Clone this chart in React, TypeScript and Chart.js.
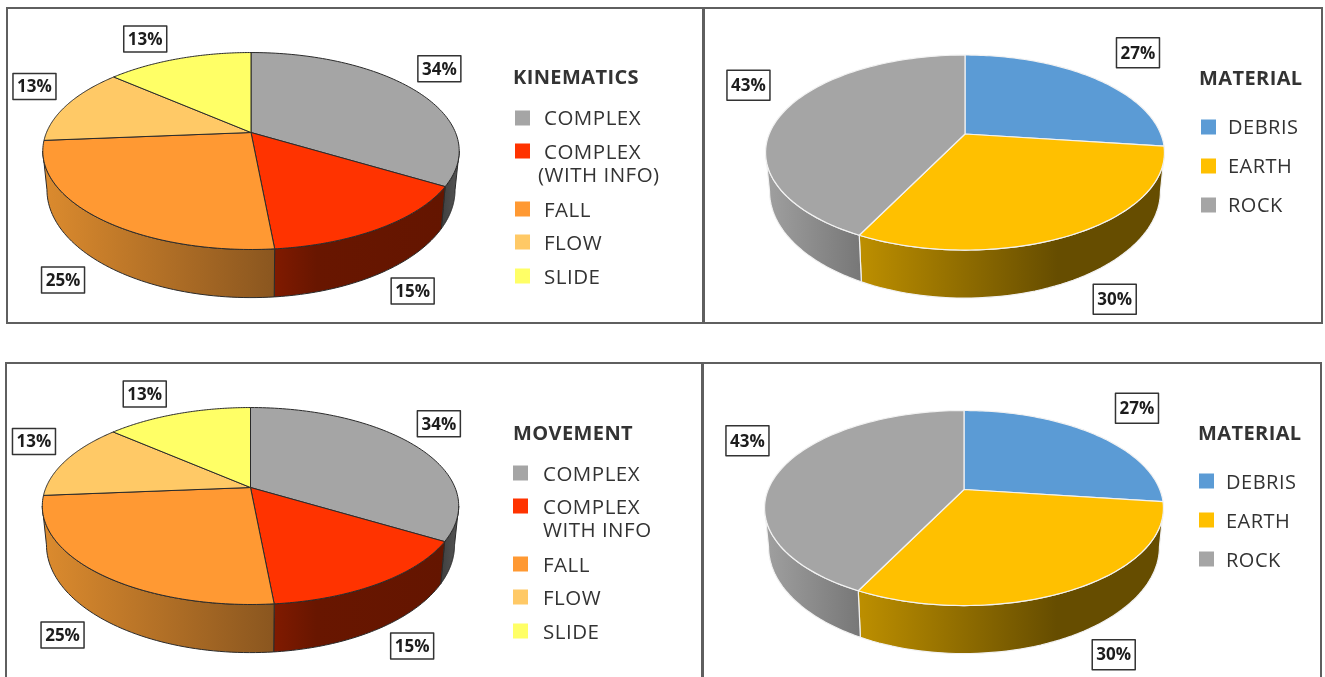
import React, { useEffect, useRef } from "react";
import { Chart, registerables } from "chart.js";

Chart.register(...registerables);

// ---------- data ----------
const kinematicsLabels = [["COMPLEX"], ["COMPLEX", "(WITH INFO)"], ["FALL"], ["FLOW"], ["SLIDE"]];
const movementLabels = [["COMPLEX"], ["COMPLEX", "WITH INFO"], ["FALL"], ["FLOW"], ["SLIDE"]];
const materialLabels = [["DEBRIS"], ["EARTH"], ["ROCK"]];
const movementValues = [33.6, 14.9, 25.2, 12.7, 13.6];
const movementTexts = ["34%", "15%", "25%", "13%", "13%"];
const materialValues = [27, 30.4, 42.6];
const materialTexts = ["27%", "30%", "43%"];

// ---------- styles ----------
const movementColors = ["#a5a5a5", "#ff3300", "#ff9933", "#ffc966", "#ffff66"];
const materialColors = ["#5b9bd5", "#ffc000", "#a5a5a5"];
const movementWalls: [number, string][][] = [
  [[0, "#3f3f3f"], [1, "#555555"]],
  [[0, "#801a00"], [0.25, "#681600"], [1, "#641500"]],
  [[0, "#dc8b2e"], [1, "#8a561f"]],
  [[0, "#dc8b2e"], [1, "#dc8b2e"]],
  [[0, "#c0c04d"], [1, "#c0c04d"]],
];
const materialWalls: [number, string][][] = [
  [[0, "#44749f"], [1, "#44749f"]],
  [[0, "#bd8f00"], [0.65, "#664d00"], [1, "#664d00"]],
  [[0, "#a0a0a0"], [1, "#777777"]],
];
const movementNudges = [[25.5, -21], [32, 63], [-34.5, 62.5], [-33, -18], [-33.4, -19.6]];
const materialNudges = [[42.5, -26], [39, 65.5], [-34, -28]];

const FONT = '"Open Sans", sans-serif';
const R = 100;
const TEXT = "#333333";

const baseMove = {
  values: movementValues, texts: movementTexts, colors: movementColors, walls: movementWalls,
  nudges: movementNudges, sx: 2.045, sy: 0.95, k: 0.188, edge: "#2a2a2a", edgeW: 1, boxH: 26, legendSize: 20.5,
};
const baseMat = {
  values: materialValues, texts: materialTexts, colors: materialColors, walls: materialWalls,
  nudges: materialNudges, sx: 1.958, sy: 0.94, k: 0.19, edge: "#f2f2f2", edgeW: 1.2, boxH: 30, legendSize: 20,
};

const panels = [
  { ...baseMove, rect: [8, 9, 695, 313], apex: [251, 132.5], title: "KINEMATICS", labels: kinematicsLabels,
    titleX: 513, titleY: 77, boxX: 515, textX: 544, altX: 538,
    rows: [[118, 118], [151, 152, 175], [209, 210], [242, 243], [276, 277]] },
  { ...baseMat, rect: [705, 9, 617, 313], apex: [965, 134], title: "MATERIAL", labels: materialLabels,
    titleX: 1199, titleY: 78, boxX: 1201, textX: 1228, altX: 1228,
    rows: [[127, 127], [166, 166], [205, 205]] },
  { ...baseMove, rect: [8, 364, 694, 313], apex: [250.5, 487.5], title: "MOVEMENT", labels: movementLabels,
    titleX: 513, titleY: 433, boxX: 513, textX: 543, altX: 543,
    rows: [[473, 474], [506, 507, 530], [564, 565], [597, 598], [631, 632]] },
  { ...baseMat, rect: [704, 364, 617, 313], apex: [964, 489.5], title: "MATERIAL", labels: materialLabels,
    titleX: 1198, titleY: 433, boxX: 1199, textX: 1226, altX: 1226,
    rows: [[481, 482], [520, 521], [559, 560]] },
];

const pie3d = {
  id: "pie3d",
  beforeDatasetDraw(chart: any, _args: any, opts: any) {
    const ctx: CanvasRenderingContext2D = chart.ctx;
    const arcs = chart.getDatasetMeta(0).data;
    const { sx, sy, k, walls, colors, edge, edgeW, nudges, texts, boxH } = opts.cfg;
    const top = (el: any, a: number) => {
      const w = 1 - k * Math.sin(a);
      return [el.x + (el.outerRadius * sx * Math.cos(a)) / w, el.y + (el.outerRadius * sy * Math.sin(a)) / w];
    };
    const low = (el: any, a: number) => {
      const p = top(el, a);
      return [el.x + (p[0] - el.x) * 0.98, el.y + 37 + (p[1] - el.y) * 1.095];
    };
    const vis0 = Math.asin(k);
    const vis1 = Math.PI - vis0;
    ctx.save();
    ctx.lineJoin = "round";
    ctx.strokeStyle = edge;
    ctx.lineWidth = edgeW;
    // side walls
    arcs.forEach((el: any, i: number) => {
      const s = el.startAngle;
      const e = el.endAngle;
      const ranges: [number, number][] = [];
      [0, Math.PI * 2].forEach((off) => {
        const a = Math.max(s, vis0 + off);
        const b = Math.min(e, vis1 + off);
        if (b > a) ranges.push([a, b]);
      });
      ranges.forEach(([a, b]) => {
        const n = 60;
        const upper: number[][] = [];
        const lower: number[][] = [];
        for (let j = 0; j <= n; j++) {
          const t = a + ((b - a) * j) / n;
          upper.push(top(el, t));
          lower.push(low(el, t));
        }
        const xs = upper.concat(lower).map((p) => p[0]);
        const g = ctx.createLinearGradient(Math.min(...xs), 0, Math.max(...xs), 0);
        walls[i].forEach(([o, c]: [number, string]) => g.addColorStop(o, c));
        ctx.beginPath();
        upper.forEach((p, j) => (j ? ctx.lineTo(p[0], p[1]) : ctx.moveTo(p[0], p[1])));
        lower.reverse().forEach((p) => ctx.lineTo(p[0], p[1]));
        ctx.closePath();
        ctx.fillStyle = g;
        ctx.fill();
        ctx.stroke();
      });
    });
    // top faces
    arcs.forEach((el: any, i: number) => {
      const n = 90;
      ctx.beginPath();
      ctx.moveTo(el.x, el.y);
      for (let j = 0; j <= n; j++) {
        const p = top(el, el.startAngle + ((el.endAngle - el.startAngle) * j) / n);
        ctx.lineTo(p[0], p[1]);
      }
      ctx.closePath();
      ctx.fillStyle = colors[i];
      ctx.fill();
      ctx.stroke();
    });
    // value boxes
    ctx.textAlign = "center";
    ctx.textBaseline = "middle";
    arcs.forEach((el: any, i: number) => {
      const p = top(el, (el.startAngle + el.endAngle) / 2);
      const cx = p[0] + nudges[i][0];
      const cy = p[1] + nudges[i][1];
      ctx.fillStyle = "#ffffff";
      ctx.fillRect(cx - 21.5, cy - boxH / 2, 43, boxH);
      ctx.strokeStyle = "#333333";
      ctx.lineWidth = 1.5;
      ctx.strokeRect(cx - 21.5, cy - boxH / 2, 43, boxH);
      ctx.fillStyle = "#1c1c1c";
      ctx.font = `bold 17px ${FONT}`;
      ctx.fillText(texts[i], cx, cy + 1);
    });
    ctx.restore();
    return false;
  },
  afterDraw(chart: any, _args: any, opts: any) {
    const ctx: CanvasRenderingContext2D = chart.ctx;
    const { title, labels, colors, titleX, titleY, boxX, textX, altX, rows, rect, legendSize } = opts.cfg;
    const ox = rect[0];
    const oy = rect[1];
    ctx.save();
    ctx.textAlign = "left";
    ctx.textBaseline = "middle";
    ctx.fillStyle = TEXT;
    (ctx as any).letterSpacing = "0.4px";
    ctx.font = `bold 20px ${FONT}`;
    ctx.fillText(title, titleX - ox, titleY - oy + 1);
    (ctx as any).letterSpacing = "0.5px";
    ctx.font = `${legendSize}px ${FONT}`;
    labels.forEach((lines: string[], i: number) => {
      const r = rows[i];
      ctx.fillStyle = colors[i];
      ctx.fillRect(boxX - ox, r[0] - 7.5 - oy, 15, 15);
      ctx.fillStyle = TEXT;
      lines.forEach((line, j) => ctx.fillText(line, (j ? altX : textX) - ox, r[j + 1] - oy + 1));
    });
    ctx.restore();
  },
};

function Pie({ cfg }: { cfg: any }) {
  const ref = useRef<HTMLCanvasElement>(null);
  useEffect(() => {
    const [x, y, w, h] = cfg.rect;
    const left = cfg.apex[0] - x - R;
    const topPad = cfg.apex[1] - y - R;
    const chart = new Chart(ref.current as HTMLCanvasElement, {
      type: "pie",
      data: {
        labels: cfg.labels,
        datasets: [{ data: cfg.values, backgroundColor: cfg.colors, borderWidth: 0 }],
      },
      options: {
        responsive: false,
        animation: false,
        layout: { padding: { left, top: topPad, right: w - left - 2 * R, bottom: h - topPad - 2 * R } },
        plugins: { legend: { display: false }, tooltip: { enabled: false }, pie3d: { cfg } },
      } as any,
      plugins: [pie3d],
    });
    return () => chart.destroy();
  }, [cfg]);
  const [x, y, w, h] = cfg.rect;
  return <canvas ref={ref} width={w} height={h} style={{ position: "absolute", left: x, top: y, width: w, height: h }} />;
}

const LINE = "#5f5f5f";
const frames = [
  [6, 7, 698, 317], [703, 7, 620, 317],
  [5, 362, 698, 330], [702, 362, 620, 330],
];

export default function App() {
  return (
    <div style={{ position: "absolute", left: 0, top: 0, width: 1325, height: 677, overflow: "hidden", background: "#fff", filter: "blur(0.4px)" }}>
      {panels.map((p, i) => <Pie key={i} cfg={p} />)}
      {frames.map((f, i) => (
        <div key={i} style={{ position: "absolute", left: f[0], top: f[1], width: f[2], height: f[3], boxSizing: "border-box", border: `2px solid ${LINE}` }} />
      ))}
    </div>
  );
}
